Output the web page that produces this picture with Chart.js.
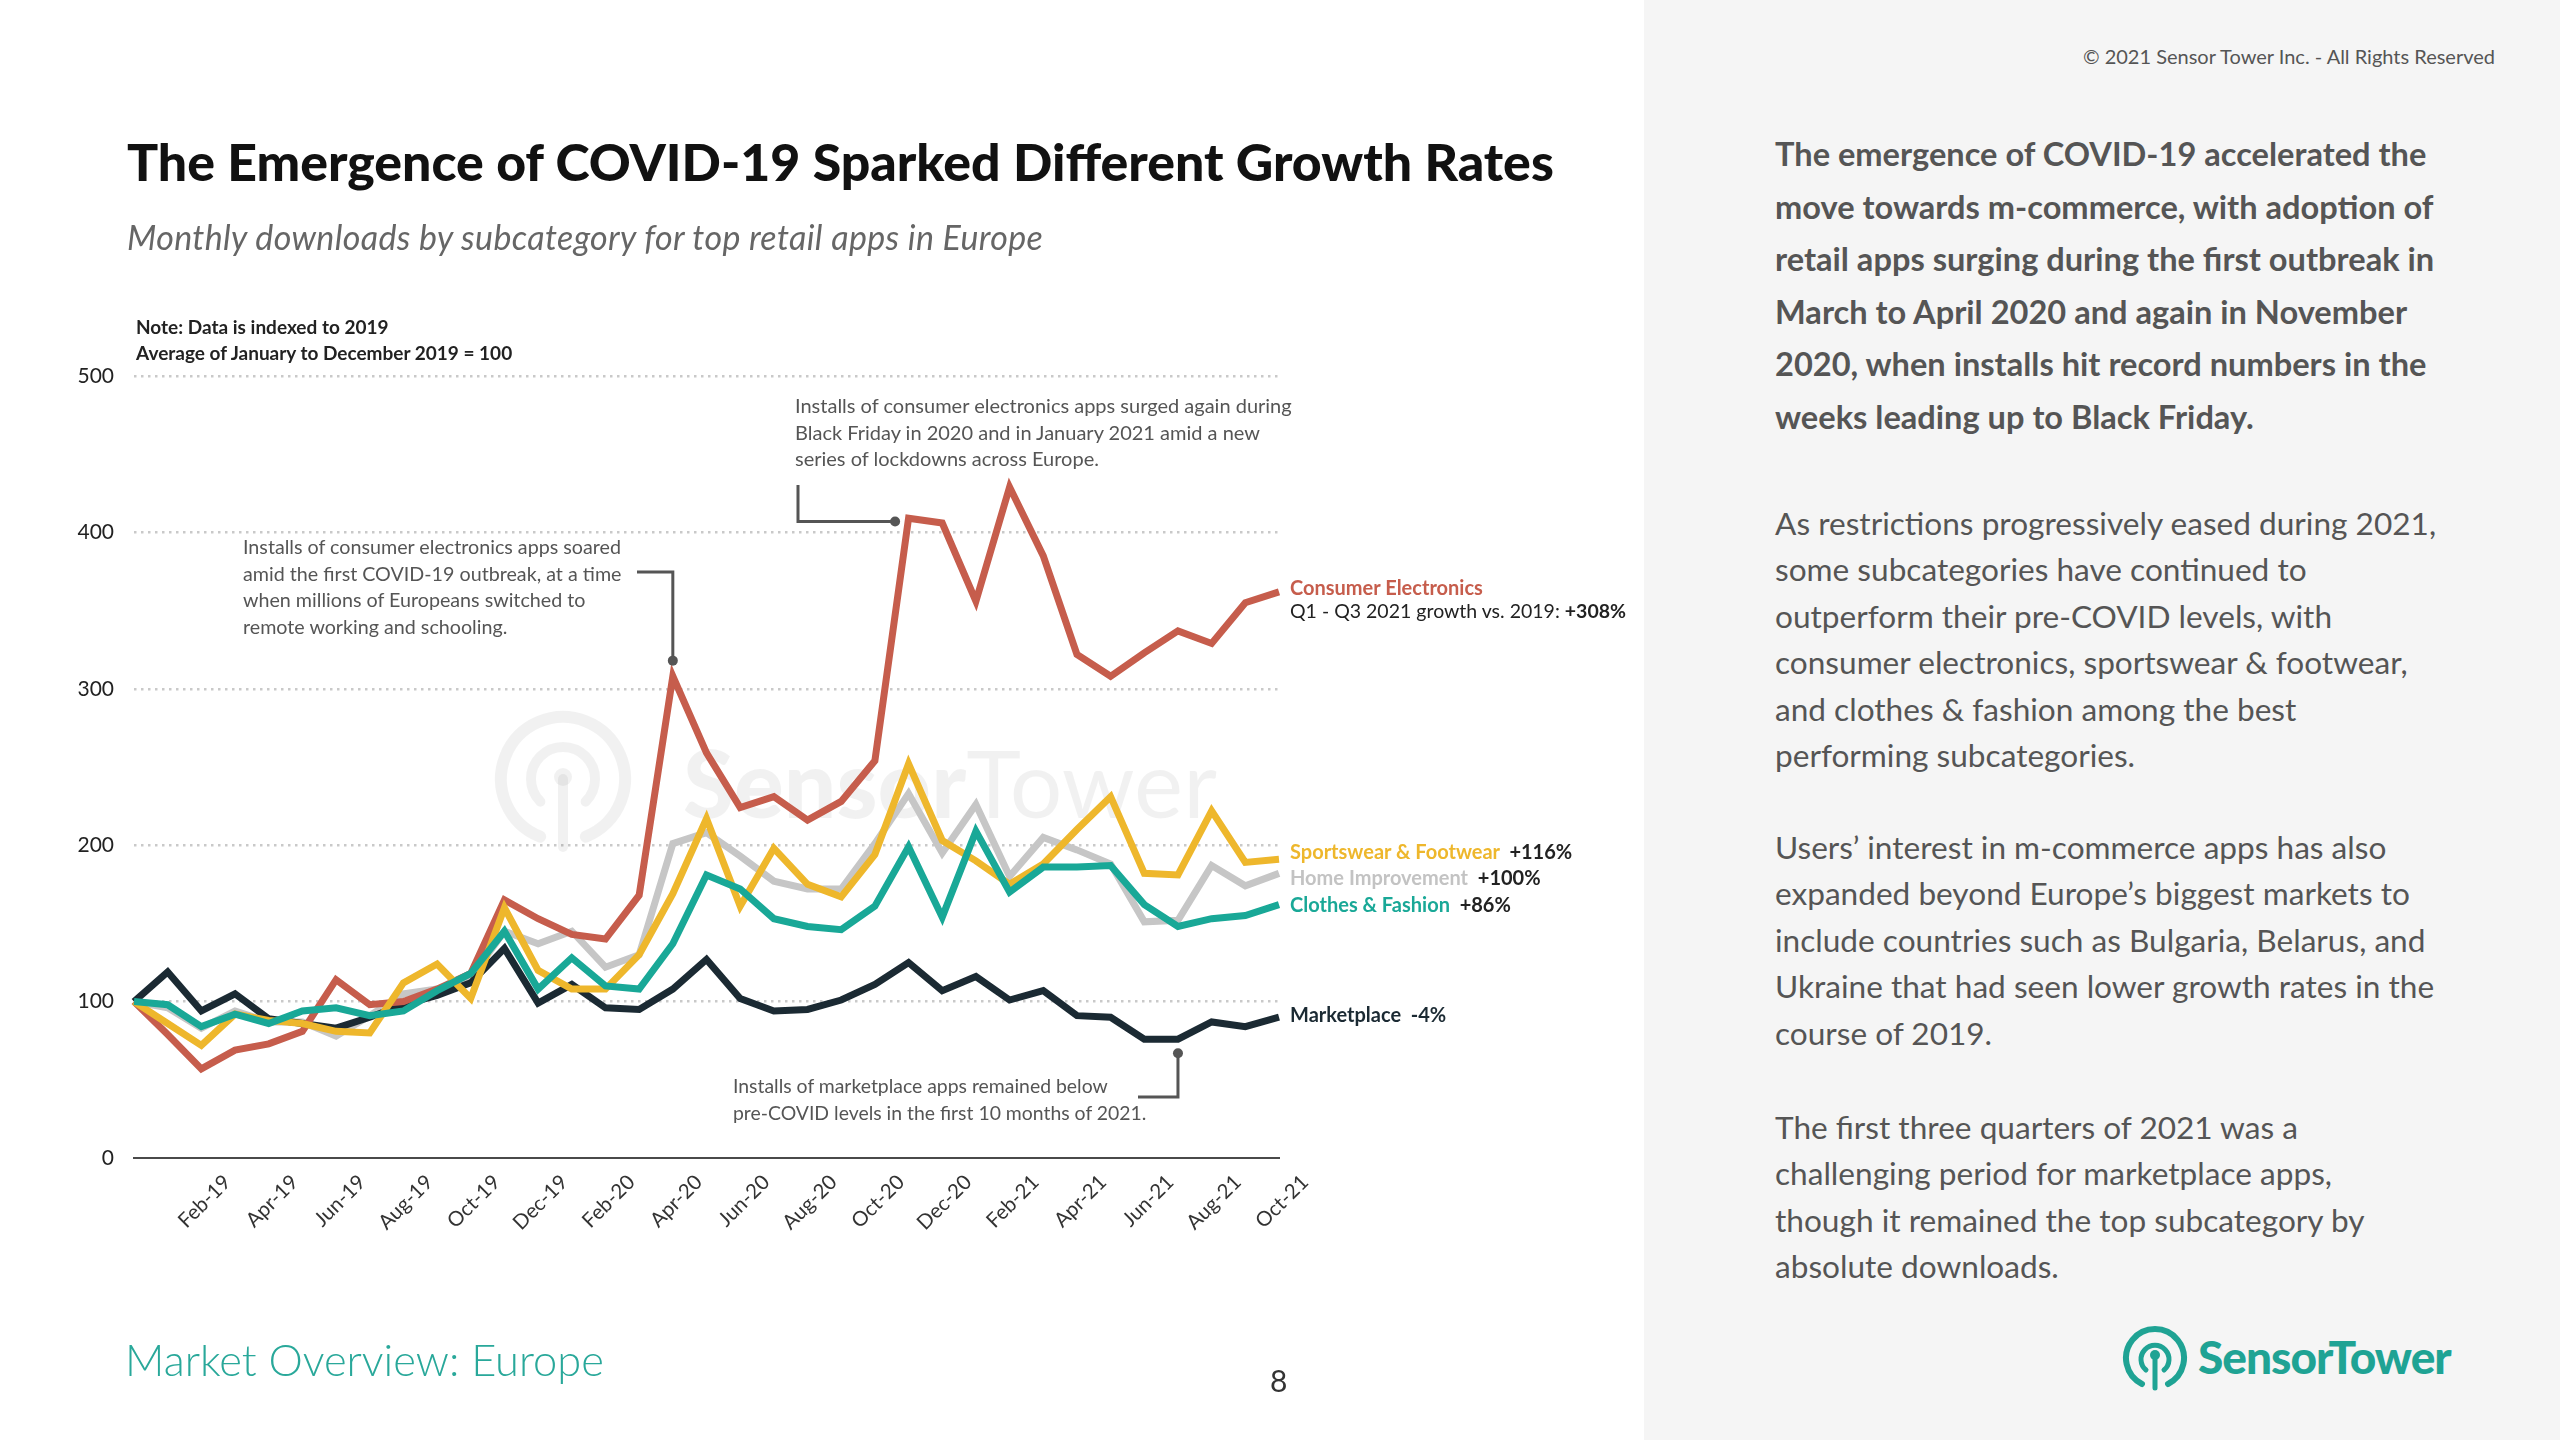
<!DOCTYPE html>
<html>
<head>
<meta charset="utf-8">
<script src="https://cdn.jsdelivr.net/npm/chart.js@4.4.1/dist/chart.umd.min.js"></script>
<style>
  html,body{margin:0;padding:0;}
  body{width:2560px;height:1440px;position:relative;overflow:hidden;background:#fff;font-family:Lato,"Noto Sans",sans-serif;}
  .a{position:absolute;white-space:nowrap;line-height:1;}
  #panel{position:absolute;left:1644px;top:0;width:916px;height:1440px;background:#f5f5f5;}
  .rp{position:absolute;left:1775px;color:#555;white-space:nowrap;}
  .p1{font-weight:700;font-size:32.6px;line-height:52.5px;}
  .p2{font-weight:400;font-size:31.6px;line-height:46.4px;}
  .ann{font-size:19.7px;color:#555;line-height:26.5px;}
  .lab{font-size:20px;font-weight:700;}
</style>
</head>
<body>
<div id="panel"></div>
<canvas id="c" width="1644" height="1440" style="position:absolute;left:0;top:0;width:1644px;height:1440px;"></canvas>

<div class="a" style="right:65px;top:46px;font-size:20px;color:#555;">© 2021 Sensor Tower Inc. - All Rights Reserved</div>
<div class="a" style="left:127px;top:136px;font-size:51.8px;font-weight:900;color:#111;">The Emergence of COVID-19 Sparked Different Growth Rates</div>
<div class="a" style="left:127px;top:220px;font-size:34px;font-style:italic;color:#666;letter-spacing:0.35px;">Monthly downloads by subcategory for top retail apps in Europe</div>
<div class="a" style="left:136px;top:314px;font-size:19px;font-weight:700;color:#222;line-height:26px;">Note: Data is indexed to 2019<br>Average of January to December 2019 = 100</div>

<div class="a ann" style="left:243px;top:534px;">Installs of consumer electronics apps soared<br>amid the first COVID-19 outbreak, at a time<br>when millions of Europeans switched to<br>remote working and schooling.</div>
<div class="a ann" style="left:795px;top:392px;font-size:20px;">Installs of consumer electronics apps surged again during<br>Black Friday in 2020 and in January 2021 amid a new<br>series of lockdowns across Europe.</div>
<div class="a ann" style="left:733px;top:1073px;font-size:19.4px;">Installs of marketplace apps remained below<br>pre-COVID levels in the first 10 months of 2021.</div>

<div class="a lab" style="left:1290px;top:577px;color:#c65d4c;">Consumer Electronics</div>
<div class="a" style="left:1290px;top:601px;font-size:19.5px;color:#222;">Q1 - Q3 2021 growth vs. 2019: <b>+308%</b></div>
<div class="a lab" style="left:1290px;top:841px;"><span style="color:#eeb72c">Sportswear &amp; Footwear</span>&nbsp; <span style="color:#222">+116%</span></div>
<div class="a lab" style="left:1290px;top:867px;"><span style="color:#c3c3c3">Home Improvement</span>&nbsp; <span style="color:#222">+100%</span></div>
<div class="a lab" style="left:1290px;top:894px;"><span style="color:#19a897">Clothes &amp; Fashion</span>&nbsp; <span style="color:#222">+86%</span></div>
<div class="a lab" style="left:1290px;top:1004px;color:#1b2a33;">Marketplace&nbsp; -4%</div>

<div class="a" style="left:125px;top:1338px;font-size:43.4px;font-weight:300;color:#29a89a;">Market Overview: Europe</div>
<div class="a" style="left:1270px;top:1365px;font-size:30px;color:#333;">8</div>

<div class="rp p1" style="top:128px;">The emergence of COVID-19 accelerated the<br>move towards m-commerce, with adoption of<br>retail apps surging during the first outbreak in<br>March to April 2020 and again in November<br>2020, when installs hit record numbers in the<br>weeks leading up to Black Friday.</div>
<div class="rp p2" style="top:500px;">As restrictions progressively eased during 2021,<br>some subcategories have continued to<br>outperform their pre-COVID levels, with<br>consumer electronics, sportswear &amp; footwear,<br>and clothes &amp; fashion among the best<br>performing subcategories.</div>
<div class="rp p2" style="top:824px;">Users’ interest in m-commerce apps has also<br>expanded beyond Europe’s biggest markets to<br>include countries such as Bulgaria, Belarus, and<br>Ukraine that had seen lower growth rates in the<br>course of 2019.</div>
<div class="rp p2" style="top:1104px;">The first three quarters of 2021 was a<br>challenging period for marketplace apps,<br>though it remained the top subcategory by<br>absolute downloads.</div>

<svg style="position:absolute;left:2122px;top:1326px;" width="66" height="66" viewBox="0 0 66 66">
  <path d="M20 58 A29 29 0 1 1 46 58" fill="none" stroke="#1fa394" stroke-width="6" stroke-linecap="round"/>
  <path d="M24 44 A14 14 0 1 1 42 44" fill="none" stroke="#1fa394" stroke-width="5" stroke-linecap="round"/>
  <line x1="33" y1="30" x2="33" y2="62" stroke="#1fa394" stroke-width="5" stroke-linecap="round"/>
  <circle cx="33" cy="29" r="5" fill="#1fa394"/>
</svg>
<div class="a" style="left:2198px;top:1334px;font-size:46px;font-weight:900;color:#1fa394;letter-spacing:-1px;">SensorTower</div>

<script>
// ---- Data (index, average of 2019 = 100) ----
const months = ["Dec-18","Jan-19","Feb-19","Mar-19","Apr-19","May-19","Jun-19","Jul-19","Aug-19","Sep-19","Oct-19","Nov-19",
  "Dec-19","Jan-20","Feb-20","Mar-20","Apr-20","May-20","Jun-20","Jul-20","Aug-20","Sep-20","Oct-20","Nov-20",
  "Dec-20","Jan-21","Feb-21","Mar-21","Apr-21","May-21","Jun-21","Jul-21","Aug-21","Sep-21","Oct-21"];
const tickLabels = ["Feb-19","Apr-19","Jun-19","Aug-19","Oct-19","Dec-19","Feb-20","Apr-20","Jun-20","Aug-20","Oct-20",
  "Dec-20","Feb-21","Apr-21","Jun-21","Aug-21","Oct-21"];
const yTicks = [0,100,200,300,400,500];

const consumerElectronics = [100,79,57,69,73,81,114,98,100,108,118,165,153,143,140,168,308,259,224,231,216,228,254,409,406,356,429,385,322,308,323,337,329,355,362];
const sportswearFootwear  = [100,86,72,92,88,86,81,80,112,124,102,160,120,108,108,130,169,217,161,198,175,167,194,252,203,190,175,188,210,231,182,181,222,189,191];
const homeImprovement     = [100,96,83,94,87,87,78,91,105,108,115,145,137,145,122,130,201,208,193,177,172,172,201,233,195,226,180,205,197,188,151,152,187,174,182];
const clothesFashion      = [100,98,84,92,86,94,96,91,94,107,118,145,108,128,110,108,137,181,172,153,148,146,161,199,154,209,170,186,186,187,162,148,153,155,162];
const marketplace         = [100,119,94,105,89,86,83,90,98,104,112,134,99,111,96,95,108,127,102,94,95,101,111,125,107,116,101,107,91,90,76,76,87,84,90];

const COLORS = {ce:'#c65d4c', sf:'#eeb72c', hi:'#c6c6c6', cf:'#19a897', mp:'#1b2a33'};

const decor = {
  id:'decor',
  beforeDatasetsDraw(chart){
    const c = chart.ctx;
    c.save();
    const col = 'rgba(0,0,0,0.055)';
    c.strokeStyle = col; c.fillStyle = col; c.lineCap='round';
    const cx = 563, cy = 779;
    c.lineWidth = 12;
    c.beginPath(); c.arc(cx, cy, 62, 0.62*Math.PI, 2.38*Math.PI); c.stroke();
    c.lineWidth = 10;
    c.beginPath(); c.arc(cx, cy, 32, 0.75*Math.PI, 2.25*Math.PI); c.stroke();
    c.beginPath(); c.moveTo(cx, cy); c.lineTo(cx, cy+68); c.stroke();
    c.beginPath(); c.arc(cx, cy-2, 9, 0, 2*Math.PI); c.fill();
    c.font = '900 100px Lato';
    const w1 = c.measureText('Sensor').width;
    c.font = '400 100px Lato';
    const w2 = c.measureText('Tower').width;
    const s = 534/(w1+w2);
    c.textBaseline = 'alphabetic';
    c.font = '900 ' + (100*s) + 'px Lato';
    c.fillText('Sensor', 683, 818);
    c.font = '400 ' + (100*s) + 'px Lato';
    c.fillText('Tower', 683 + w1*s, 818);
    c.restore();
  },
  afterDatasetsDraw(chart){
    const c = chart.ctx, xs = chart.scales.x, ys = chart.scales.y;
    c.save();
    c.strokeStyle = '#555'; c.fillStyle = '#555'; c.lineWidth = 3;
    const x1 = xs.getPixelForValue(16), y1 = ys.getPixelForValue(318);
    c.beginPath(); c.moveTo(637, 572); c.lineTo(x1, 572); c.lineTo(x1, y1); c.stroke();
    c.beginPath(); c.arc(x1, y1, 5, 0, 2*Math.PI); c.fill();
    const x2 = xs.getPixelForValue(22.6), y2 = ys.getPixelForValue(407);
    c.beginPath(); c.moveTo(798, 485); c.lineTo(798, y2); c.lineTo(x2, y2); c.stroke();
    c.beginPath(); c.arc(x2, y2, 5, 0, 2*Math.PI); c.fill();
    const x3 = xs.getPixelForValue(31), y3 = ys.getPixelForValue(67);
    c.beginPath(); c.moveTo(x3, y3); c.lineTo(x3, 1097); c.lineTo(1138, 1097); c.stroke();
    c.beginPath(); c.arc(x3, y3, 5, 0, 2*Math.PI); c.fill();
    c.restore();
  }
};

function ds(label, data, color){
  return {label, data, borderColor:color, backgroundColor:color, borderWidth:7, pointRadius:0, tension:0,
          borderJoinStyle:'miter', borderCapStyle:'butt', fill:false};
}

new Chart(document.getElementById('c'), {
  type:'line',
  data:{
    labels: months,
    datasets:[
      ds('Clothes & Fashion', clothesFashion, COLORS.cf),
      ds('Sportswear & Footwear', sportswearFootwear, COLORS.sf),
      ds('Consumer Electronics', consumerElectronics, COLORS.ce),
      ds('Marketplace', marketplace, COLORS.mp),
      ds('Home Improvement', homeImprovement, COLORS.hi)
    ]
  },
  options:{
    responsive:false, animation:false, devicePixelRatio:1,
    layout:{padding:{left:0, right:365, top:376, bottom:162}},
    plugins:{legend:{display:false}, tooltip:{enabled:false}, title:{display:false}},
    scales:{
      x:{
        type:'category', offset:false,
        grid:{display:false, drawTicks:false},
        border:{display:true, color:'#4a4a4a', width:2},
        ticks:{autoSkip:false, minRotation:45, maxRotation:45, padding:12, labelOffset:26,
               color:'#333', font:{family:'Lato', size:20.5},
               callback:(v,i)=> tickLabels.includes(months[i]) ? months[i] : ''},
        afterFit:(s)=>{ s.height = 120; }
      },
      y:{
        min:0, max:500,
        afterBuildTicks:(s)=>{ s.ticks = yTicks.map(v=>({value:v})); },
        grid:{drawTicks:false, lineWidth:2.5,
              color:(ctx)=> ctx.tick && ctx.tick.value === 0 ? 'rgba(0,0,0,0)' : '#c9c9c9'},
        border:{display:false, dash:[2.5,4.5]},
        ticks:{padding:20, color:'#222', font:{family:'Lato', size:21}},
        afterFit:(s)=>{ s.width = 134; }
      }
    }
  },
  plugins:[decor]
});
</script>
</body>
</html>
